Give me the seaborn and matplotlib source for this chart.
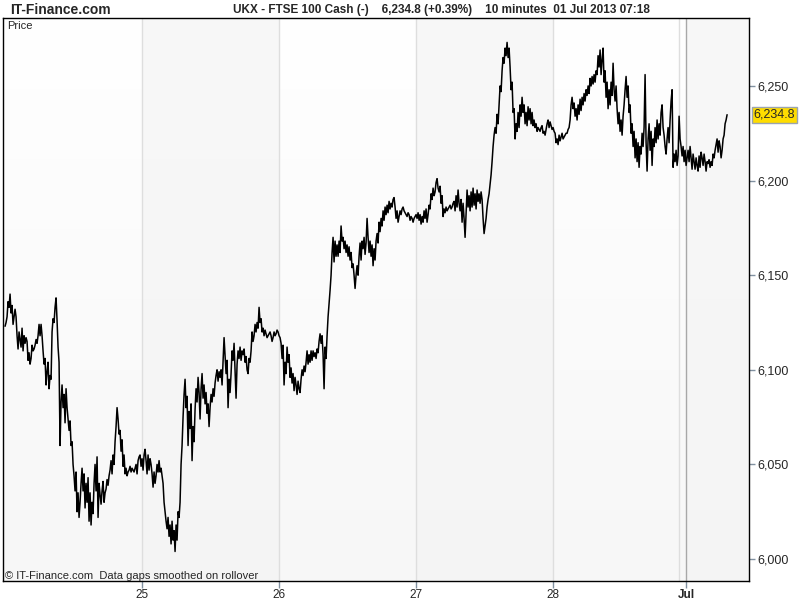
import numpy as np
import pandas as pd
import seaborn as sns
import matplotlib.pyplot as plt
from matplotlib.colors import LinearSegmentedColormap
from matplotlib.transforms import blended_transform_factory


# UKX - FTSE 100 Cash, 10 minute chart, prices
SAMPLES_PER_DAY = 137

jun24 = [6123, 6125, 6128, 6136, 6133, 6140, 6130, 6134, 6124, 6128, 6132, 6128, 6118, 6111, 6120,
         6116, 6112, 6122, 6110, 6118, 6114, 6117, 6115, 6105, 6109, 6103, 6106, 6113, 6110, 6111,
         6113, 6116, 6114, 6118, 6124, 6118, 6124, 6118, 6110, 6103, 6106, 6092, 6099, 6104, 6090,
         6097, 6095, 6120, 6127, 6125, 6133, 6138, 6126, 6112, 6104, 6060, 6083, 6092, 6080, 6087,
         6072, 6090, 6080, 6074, 6068, 6073, 6060, 6062, 6050, 6044, 6036, 6046, 6025, 6035, 6022,
         6030, 6040, 6048, 6036, 6045, 6027, 6040, 6030, 6043, 6020, 6035, 6018, 6030, 6024, 6040,
         6050, 6036, 6054, 6022, 6040, 6034, 6029, 6036, 6041, 6030, 6035, 6037, 6042, 6039, 6044,
         6047, 6052, 6045, 6055, 6050, 6062, 6070, 6080, 6074, 6066, 6068, 6057, 6063, 6049, 6055,
         6045, 6048, 6044, 6046, 6047, 6049, 6046, 6048, 6047, 6046, 6048, 6050, 6045, 6052, 6054,
         6055, 6049]
jun25 = [6053, 6047, 6055, 6058, 6052, 6045, 6055, 6047, 6053, 6050, 6045, 6038, 6046, 6040, 6044,
         6050, 6046, 6052, 6046, 6048, 6044, 6040, 6030, 6025, 6020, 6016, 6022, 6012, 6018, 6008,
         6020, 6010, 6015, 6004, 6018, 6010, 6025, 6022, 6030, 6050, 6060, 6075, 6087, 6095, 6080,
         6086, 6060, 6078, 6069, 6082, 6052, 6070, 6062, 6079, 6090, 6083, 6096, 6088, 6074, 6090,
         6098, 6085, 6092, 6082, 6088, 6077, 6082, 6070, 6080, 6087, 6083, 6090, 6086, 6093, 6097,
         6100, 6094, 6099, 6096, 6100, 6092, 6105, 6117, 6108, 6098, 6105, 6080, 6095, 6088, 6098,
         6110, 6105, 6114, 6100, 6085, 6103, 6110, 6106, 6112, 6105, 6110, 6108, 6111, 6104, 6107,
         6100, 6098, 6106, 6104, 6110, 6120, 6115, 6118, 6124, 6120, 6125, 6122, 6133, 6125, 6127,
         6120, 6122, 6118, 6121, 6119, 6117, 6118, 6119, 6120, 6118, 6115, 6117, 6120, 6118, 6119,
         6121, 6120]
jun26 = [6118, 6117, 6114, 6106, 6113, 6092, 6104, 6098, 6112, 6104, 6108, 6096, 6101, 6093, 6098,
         6089, 6096, 6092, 6087, 6094, 6090, 6088, 6095, 6100, 6097, 6102, 6099, 6104, 6110, 6103,
         6108, 6104, 6110, 6105, 6110, 6107, 6109, 6106, 6111, 6109, 6115, 6119, 6114, 6118, 6108,
         6090, 6112, 6106, 6118, 6128, 6135, 6142, 6150, 6162, 6170, 6157, 6168, 6160, 6166, 6160,
         6168, 6162, 6176, 6168, 6170, 6164, 6168, 6162, 6166, 6160, 6165, 6158, 6162, 6154, 6156,
         6150, 6143, 6150, 6155, 6150, 6160, 6167, 6158, 6168, 6164, 6170, 6161, 6167, 6180, 6170,
         6162, 6168, 6160, 6166, 6155, 6164, 6158, 6168, 6172, 6167, 6178, 6173, 6180, 6176, 6184,
         6179, 6186, 6182, 6187, 6183, 6189, 6185, 6188, 6186, 6190, 6191, 6186, 6180, 6184, 6178,
         6181, 6184, 6182, 6185, 6186, 6184, 6183, 6182, 6181, 6183, 6182, 6179, 6181, 6180, 6178,
         6180, 6181]
jun27 = [6182, 6180, 6183, 6179, 6182, 6177, 6181, 6178, 6184, 6180, 6185, 6178, 6182, 6187, 6185,
         6193, 6190, 6196, 6192, 6194, 6199, 6201, 6196, 6194, 6197, 6188, 6192, 6181, 6185, 6183,
         6186, 6184, 6185, 6186, 6187, 6185, 6186, 6188, 6189, 6184, 6192, 6186, 6195, 6188, 6184,
         6190, 6178, 6188, 6180, 6170, 6182, 6195, 6186, 6192, 6184, 6194, 6186, 6196, 6187, 6193,
         6185, 6195, 6189, 6193, 6188, 6194, 6190, 6180, 6172, 6176, 6180, 6186, 6190, 6193, 6198,
         6203, 6210, 6218, 6224, 6228, 6225, 6235, 6230, 6240, 6250, 6247, 6258, 6265, 6262, 6270,
         6266, 6273, 6265, 6270, 6260, 6248, 6252, 6236, 6238, 6222, 6230, 6226, 6236, 6228, 6240,
         6234, 6244, 6236, 6240, 6230, 6236, 6229, 6239, 6232, 6238, 6230, 6236, 6229, 6232, 6228,
         6230, 6226, 6228, 6227, 6226, 6228, 6229, 6225, 6226, 6224, 6227, 6230, 6232, 6228, 6231,
         6229, 6227]
jun28 = [6228, 6226, 6225, 6220, 6222, 6219, 6224, 6221, 6223, 6225, 6222, 6223, 6224, 6225, 6225,
         6227, 6228, 6232, 6240, 6244, 6238, 6241, 6234, 6238, 6232, 6240, 6235, 6243, 6237, 6244,
         6240, 6246, 6242, 6248, 6245, 6250, 6246, 6254, 6250, 6255, 6251, 6256, 6252, 6258, 6256,
         6266, 6260, 6269, 6256, 6264, 6270, 6252, 6258, 6244, 6252, 6238, 6248, 6240, 6252, 6245,
         6262, 6248, 6242, 6250, 6238, 6230, 6236, 6226, 6232, 6224, 6234, 6240, 6248, 6255, 6244,
         6250, 6236, 6240, 6225, 6230, 6218, 6226, 6212, 6222, 6210, 6220, 6207, 6218, 6214, 6225,
         6218, 6228, 6256, 6220, 6205, 6222, 6230, 6216, 6226, 6208, 6222, 6218, 6228, 6220, 6232,
         6222, 6230, 6224, 6236, 6240, 6228, 6224, 6218, 6214, 6222, 6228, 6220, 6232, 6242, 6248,
         6207, 6214, 6210, 6216, 6208, 6213, 6234, 6222, 6218, 6213, 6218, 6210, 6216]
jul01 = [6208, 6212, 6216, 6210, 6218, 6212, 6206, 6214, 6210, 6206, 6212, 6208, 6205, 6213, 6207,
         6215, 6212, 6208, 6214, 6210, 6205, 6210, 6209, 6211, 6207, 6210, 6208, 6214, 6212, 6216,
         6219, 6222, 6215, 6221, 6218, 6212, 6216, 6222, 6224, 6230, 6232, 6234.8]

sessions = [jun24, jun25, jun26, jun27, jun28, jul01]
first_day = 24
y_ticks = [6000, 6050, 6100, 6150, 6200, 6250]
header_left = 'IT-Finance.com'
header_main = 'UKX - FTSE 100 Cash (-)    6,234.8 (+0.39%)    10 minutes  01 Jul 2013 07:18'


def build_frame():
    times, prices = [], []
    start = first_day
    starts = []
    for vals in sessions:
        starts.append(start)
        times.extend(start + np.arange(len(vals)) / SAMPLES_PER_DAY)
        prices.extend(vals)
        start += len(vals) / SAMPLES_PER_DAY
    return pd.DataFrame({'time': times, 'price': prices}), starts


def main():
    df, starts = build_frame()
    jul_pos = starts[-1]

    sns.set_style('white')
    plt.rcParams['font.family'] = ['Liberation Sans', 'DejaVu Sans']

    fig = plt.figure(figsize=(8, 6), dpi=100)
    ax = fig.add_axes([3 / 800, 19 / 600, 746 / 800, 563 / 600])

    x_min, x_max = 23.985, 29.43
    y_min, y_max = 5988.4, 6285.9

    # background: soft vertical gradient plus alternating day bands
    grad = np.linspace(0, 1, 256).reshape(-1, 1)
    cmap = LinearSegmentedColormap.from_list('bg', ['#ffffff', '#f7f7f7'])
    ax.imshow(grad, cmap=cmap, extent=[x_min, x_max, y_min, y_max],
              aspect='auto', zorder=0)
    for a, b in [(25, 26), (27, 28), (jul_pos, x_max)]:
        ax.axvspan(a, b, color='#f3f3f3', alpha=0.6, lw=0, zorder=0.5)

    for d in [25, 26, 27, 28, 28.92]:
        ax.axvline(d, color='#dedede', lw=1, zorder=0.8)
    ax.axvline(jul_pos, color='#a8a8a8', lw=1, zorder=0.8)

    sns.lineplot(data=df, x='time', y='price', ax=ax, color='black',
                 lw=1.1, estimator=None, zorder=3)

    ax.set_xlim(x_min, x_max)
    ax.set_ylim(y_min, y_max)
    ax.set_xlabel('')
    ax.set_ylabel('')

    ax.yaxis.tick_right()
    ax.set_yticks(y_ticks)
    ax.set_yticklabels(['{:,}'.format(v) for v in y_ticks])
    ax.set_xticks([25, 26, 27, 28, jul_pos])
    ax.set_xticklabels(['25', '26', '27', '28', 'Jul'])
    ax.get_xticklabels()[-1].set_fontweight('bold')
    ax.tick_params(axis='y', length=4, width=1, color='#8090a0', labelsize=9, pad=2)
    ax.tick_params(axis='x', length=5, width=1, color='#8090a0', labelsize=8.5, pad=0.5)
    ax.tick_params(left=False, bottom=True, right=True)

    for spine in ax.spines.values():
        spine.set_visible(True)
        spine.set_color('black')
        spine.set_linewidth(1)

    # last price tag
    last = df['price'].iloc[-1]
    trans = blended_transform_factory(ax.transAxes, ax.transData)
    ax.text(1.006, last, '{:,.1f}'.format(last), transform=trans, fontsize=9,
            va='center', ha='left', clip_on=False,
            bbox=dict(boxstyle='square,pad=0.15', facecolor='#ffdd00',
                      edgecolor='#9aa4b0', lw=1))

    ax.text(0.005, 0.994, 'Price', transform=ax.transAxes, fontsize=8,
            va='top', ha='left')
    ax.text(0.003, 0.0, '\u00a9 IT-Finance.com  Data gaps smoothed on rollover',
            transform=ax.transAxes, fontsize=8, va='bottom', ha='left')

    fig.text(10 / 800, 1 - 10 / 600, header_left, fontsize=10, fontweight='bold',
             va='center', ha='left')
    fig.text(233 / 800, 1 - 10 / 600, header_main, fontsize=8.5, fontweight='bold',
             va='center', ha='left')

    fig.savefig('out.png', dpi=100)


if __name__ == '__main__':
    main()
